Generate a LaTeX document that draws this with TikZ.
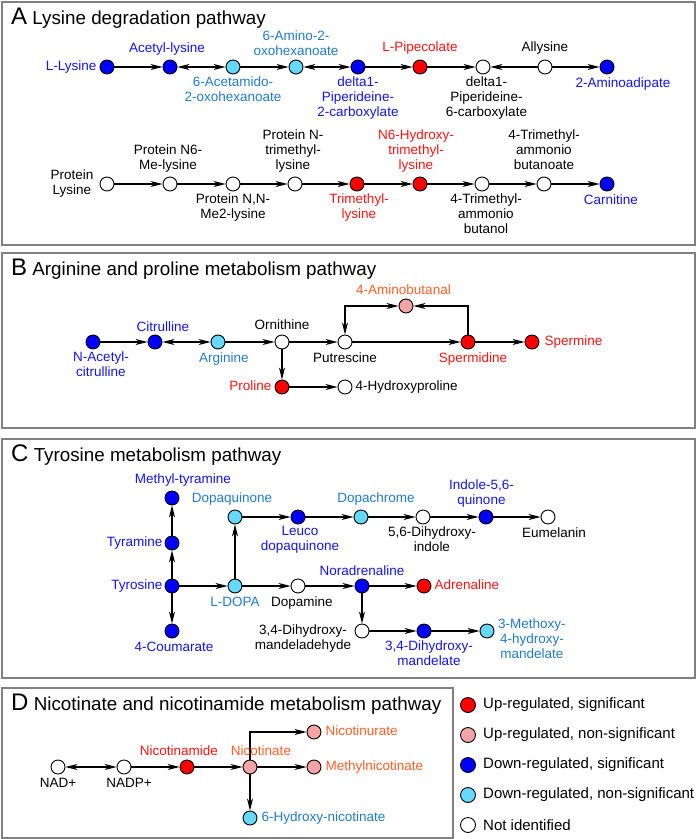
\documentclass[tikz,border=0pt]{standalone}
\usepackage{fontspec}
\setmainfont{Liberation Sans}
\usetikzlibrary{arrows.meta,calc}
\definecolor{cRed}{RGB}{255,0,0}
\definecolor{cPink}{RGB}{244,164,164}
\definecolor{cBlue}{RGB}{0,0,255}
\definecolor{cLBlue}{RGB}{102,216,248}
\definecolor{tBlue}{RGB}{20,20,240}
\definecolor{tLBlue}{RGB}{34,122,200}
\definecolor{tRed}{RGB}{255,20,20}
\definecolor{tOrange}{RGB}{255,95,40}
\definecolor{frameGray}{RGB}{128,128,128}
\begin{document}
\begin{tikzpicture}[x=1pt,y=-1pt,
  >={Stealth[length=12pt,width=6pt,inset=3.5pt]},
  met/.style={circle,draw=black,line width=0.9pt,minimum size=14pt,inner sep=0pt},
  up/.style={met,fill=cRed}, upn/.style={met,fill=cPink},
  dn/.style={met,fill=cBlue}, dnn/.style={met,fill=cLBlue}, ni/.style={met,fill=white},
  lab/.style={font=\fontsize{13.5}{15}\selectfont, align=center, inner sep=2pt,
    execute at begin node=\strut, execute at end node=\strut},
  ar/.style={line width=1.2pt,->},
  ar2/.style={line width=1.2pt,<->},
  frame/.style={draw=frameGray,line width=1.5pt},
  ttl/.style={anchor=base west,inner sep=0pt,font=\fontsize{18.8}{20}\selectfont},
  leg/.style={met,minimum size=15pt},
  legt/.style={anchor=west,inner sep=0pt,font=\fontsize{15}{17}\selectfont}
]
\useasboundingbox (0,0) rectangle (697,839);
% frames
\draw[frame] (2,2) rectangle (695,245);
\draw[frame] (2,253) rectangle (695,428);
\draw[frame] (2,439) rectangle (695,678);
\draw[frame] (2,688) rectangle (453,838);
% titles
\node[ttl] (tA) at (11,24) {{\fontsize{24}{24}\selectfont A} Lysine degradation pathway};
\node[ttl] (tB) at (11,275) {{\fontsize{24}{24}\selectfont B} Arginine and proline metabolism pathway};
\node[ttl] (tC) at (11,461) {{\fontsize{24}{24}\selectfont C} Tyrosine metabolism pathway};
\node[ttl] (tD) at (11,710) {{\fontsize{24}{24}\selectfont D} Nicotinate and nicotinamide metabolism pathway};

% ===== Panel A row 1
\node[dn] (Lys) at (107,67) {};
\node[dn] (AcL) at (170,67) {};
\node[dnn] (AcO) at (233,67) {};
\node[dnn] (AmO) at (296,67) {};
\node[dn] (P2C) at (358,67) {};
\node[up] (Pip) at (420,67) {};
\node[ni] (P6C) at (483,67) {};
\node[ni] (All) at (545,67) {};
\node[dn] (Aad) at (607,67) {};
\draw[ar] (Lys) -- (AcL);
\draw[ar2] (AcL) -- (AcO);
\draw[ar] (AcO) -- (AmO);
\draw[ar2] (AmO) -- (P2C);
\draw[ar] (P2C) -- (Pip);
\draw[ar] (Pip) -- (P6C);
\draw[ar] (All) -- (P6C);
\draw[ar] (All) -- (Aad);
\node[lab,tBlue,anchor=east,xshift=-1pt] (lLys) at (Lys.west) {L-Lysine};
\node[lab,tBlue,anchor=south,xshift=-3pt] (lAcL) at (AcL.north) {Acetyl-lysine};
\node[lab,tLBlue,anchor=north] (lAcO) at (AcO.south) {6-Acetamido-\\2-oxohexanoate};
\node[lab,tLBlue,anchor=south,yshift=-3pt] (lAmO) at (AmO.north) {6-Amino-2-\\oxohexanoate};
\node[lab,tBlue,anchor=north] (lP2C) at (P2C.south) {delta1-\\Piperideine-\\2-carboxylate};
\node[lab,tRed,anchor=south,yshift=1pt] (lPip) at (Pip.north) {L-Pipecolate};
\node[lab,anchor=north,xshift=3.5pt] (lP6C) at (P6C.south) {delta1-\\Piperideine-\\6-carboxylate};
\node[lab,anchor=south,yshift=1pt] (lAll) at (All.north) {Allysine};
\node[lab,tBlue,anchor=north,xshift=16pt] (lAad) at (Aad.south) {2-Aminoadipate};

% ===== Panel A row 2
\node[ni] (PLys) at (107,184) {};
\node[ni] (PMe) at (170,184) {};
\node[ni] (PMe2) at (233,184) {};
\node[ni] (PMe3) at (295,184) {};
\node[up] (TML) at (357,184) {};
\node[up] (HTML) at (420,184) {};
\node[ni] (TMAbl) at (482,184) {};
\node[ni] (TMAbt) at (544,184) {};
\node[dn] (Car) at (607,184) {};
\draw[ar] (PLys) -- (PMe);
\draw[ar] (PMe) -- (PMe2);
\draw[ar] (PMe2) -- (PMe3);
\draw[ar] (PMe3) -- (TML);
\draw[ar] (TML) -- (HTML);
\draw[ar] (HTML) -- (TMAbl);
\draw[ar] (TMAbl) -- (TMAbt);
\draw[ar] (TMAbt) -- (Car);
\node[lab,anchor=east,xshift=-4pt] (lPLys) at (PLys.west) {Protein\\Lysine};
\node[lab,anchor=south,xshift=-2pt] (lPMe) at (PMe.north) {Protein N6-\\Me-lysine};
\node[lab,anchor=north] (lPMe2) at (PMe2.south) {Protein N,N-\\Me2-lysine};
\node[lab,anchor=south,xshift=-2pt] (lPMe3) at (PMe3.north) {Protein N-\\trimethyl-\\lysine};
\node[lab,tRed,anchor=north,xshift=2pt] (lTML) at (TML.south) {Trimethyl-\\lysine};
\node[lab,tRed,anchor=south,xshift=-4pt] (lHTML) at (HTML.north) {N6-Hydroxy-\\trimethyl-\\lysine};
\node[lab,anchor=north,xshift=4pt] (lTMAbl) at (TMAbl.south) {4-Trimethyl-\\ammonio\\butanol};
\node[lab,anchor=south] (lTMAbt) at (TMAbt.north) {4-Trimethyl-\\ammonio\\butanoate};
\node[lab,tBlue,anchor=north,xshift=4pt] (lCar) at (Car.south) {Carnitine};

% ===== Panel B
\node[dn] (NAc) at (93,342) {};
\node[dn] (Cit) at (155,342) {};
\node[dnn] (Arg) at (218,342) {};
\node[ni] (Orn) at (282,342) {};
\node[ni] (Put) at (345,342) {};
\node[up] (Spd) at (468,342) {};
\node[up] (Spm) at (532,342) {};
\node[upn] (Amb) at (406,306) {};
\node[up] (Pro) at (282,387) {};
\node[ni] (Hyp) at (345,387) {};
\draw[ar] (NAc) -- (Cit);
\draw[ar2] (Cit) -- (Arg);
\draw[ar] (Arg) -- (Orn);
\draw[ar] (Orn) -- (Put);
\draw[ar] (Orn) -- (Pro);
\draw[ar] (Pro) -- (Hyp);
\draw[ar] (Put) -- (Spd);
\draw[ar] (Spd) -- (Spm);
\draw[ar] (Spd) |- (Amb);
\draw[ar2] (Put) |- (Amb);
\node[lab,tBlue,anchor=north,xshift=8pt] (lNAc) at (NAc.south) {N-Acetyl-\\citrulline};
\node[lab,tBlue,anchor=south,xshift=8pt,yshift=-4pt] (lCit) at (Cit.north) {Citrulline};
\node[lab,tLBlue,anchor=north,xshift=6pt] (lArg) at (Arg.south) {Arginine};
\node[lab,anchor=south,yshift=-2pt] (lOrn) at (Orn.north) {Ornithine};
\node[lab,anchor=north] (lPut) at (Put.south) {Putrescine};
\node[lab,tRed,anchor=north,xshift=5pt] (lSpd) at (Spd.south) {Spermidine};
\node[lab,tRed,anchor=west,xshift=3pt] (lSpm) at (Spm.east) {Spermine};
\node[lab,tOrange,anchor=south,xshift=-2.5pt,yshift=-3pt] (lAmb) at (Amb.north) {4-Aminobutanal};
\node[lab,tRed,anchor=east,xshift=-1pt] (lPro) at (Pro.west) {Proline};
\node[lab,anchor=west,xshift=1pt] (lHyp) at (Hyp.east) {4-Hydroxyproline};

% ===== Panel C
\node[dn] (Tyr) at (172,586) {};
\node[dn] (Tym) at (172,543) {};
\node[dn] (MTym) at (172,498) {};
\node[dn] (Cou) at (172,631) {};
\node[dnn] (Dopa) at (235,586) {};
\node[dnn] (DQ) at (235,517) {};
\node[dn] (Leu) at (298,517) {};
\node[dnn] (DC) at (361,517) {};
\node[ni] (DHI) at (423,517) {};
\node[dn] (IQ) at (486,517) {};
\node[ni] (Eum) at (548,517) {};
\node[ni] (DA) at (298,586) {};
\node[dn] (NA) at (362,586) {};
\node[up] (Adr) at (424,586) {};
\node[ni] (DHMAl) at (362,631) {};
\node[dn] (DHM) at (424,631) {};
\node[dnn] (MHM) at (487,631) {};
\draw[ar] (Tyr) -- (Tym);
\draw[ar] (Tym) -- (MTym);
\draw[ar] (Tyr) -- (Cou);
\draw[ar] (Tyr) -- (Dopa);
\draw[ar] (Dopa) -- (DQ);
\draw[ar] (DQ) -- (Leu);
\draw[ar] (Leu) -- (DC);
\draw[ar] (DC) -- (DHI);
\draw[ar] (DHI) -- (IQ);
\draw[ar] (IQ) -- (Eum);
\draw[ar] (Dopa) -- (DA);
\draw[ar] (DA) -- (NA);
\draw[ar] (NA) -- (Adr);
\draw[ar] (NA) -- (DHMAl);
\draw[ar] (DHMAl) -- (DHM);
\draw[ar] (DHM) -- (MHM);
\node[lab,tBlue,anchor=south,xshift=11pt] (lMTym) at (MTym.north) {Methyl-tyramine};
\node[lab,tBlue,anchor=east] (lTym) at (Tym.west) {Tyramine};
\node[lab,tBlue,anchor=east] (lTyr) at (Tyr.west) {Tyrosine};
\node[lab,tBlue,anchor=north,xshift=2pt] (lCou) at (Cou.south) {4-Coumarate};
\node[lab,tLBlue,anchor=north] (lDopa) at (Dopa.south) {L-DOPA};
\node[lab,tLBlue,anchor=south,xshift=-3pt] (lDQ) at (DQ.north) {Dopaquinone};
\node[lab,tBlue,anchor=north,xshift=2pt] (lLeu) at (Leu.south) {Leuco\\dopaquinone};
\node[lab,tLBlue,anchor=south,xshift=15pt] (lDC) at (DC.north) {Dopachrome};
\node[lab,anchor=north,xshift=9pt] (lDHI) at (DHI.south) {5,6-Dihydroxy-\\indole};
\node[lab,tBlue,anchor=south,xshift=-4.5pt,yshift=-2pt] (lIQ) at (IQ.north) {Indole-5,6-\\quinone};
\node[lab,anchor=north,xshift=6pt] (lEum) at (Eum.south) {Eumelanin};
\node[lab,anchor=north,xshift=4pt] (lDA) at (DA.south) {Dopamine};
\node[lab,tBlue,anchor=south,yshift=-4pt] (lNA) at (NA.north) {Noradrenaline};
\node[lab,tRed,anchor=west,xshift=1pt] (lAdr) at (Adr.east) {Adrenaline};
\node[lab] (lDHMAl) at (303,639.5) {3,4-Dihydroxy-\\mandeladehyde};
\node[lab,tBlue,anchor=north,xshift=5pt] (lDHM) at (DHM.south) {3,4-Dihydroxy-\\mandelate};
\node[lab,tLBlue,anchor=west] (lMHM) at (496,640.7) {3-Methoxy-\\4-hydroxy-\\mandelate};

% ===== Panel D
\node[ni] (NAD) at (58,767) {};
\node[ni] (NADP) at (124,767) {};
\node[up] (Nam) at (187,767) {};
\node[upn] (Nic) at (250,767) {};
\node[upn] (Nur) at (314,732) {};
\node[upn] (MNic) at (314,767) {};
\node[dnn] (HNic) at (250,818) {};
\draw[ar2] (NAD) -- (NADP);
\draw[ar] (NADP) -- (Nam);
\draw[ar] (Nam) -- (Nic);
\draw[ar] (Nic) |- (Nur);
\draw[ar] (Nic) -- (MNic);
\draw[ar] (Nic) -- (HNic);
\node[lab,anchor=north] (lNAD) at (NAD.south) {NAD+};
\node[lab,anchor=north,xshift=5pt] (lNADP) at (NADP.south) {NADP+};
\node[lab,tRed,anchor=south,xshift=-8pt,yshift=-3pt] (lNam) at (Nam.north) {Nicotinamide};
\node[lab,tOrange,anchor=south,xshift=11pt,yshift=-3pt] (lNic) at (Nic.north) {Nicotinate};
\node[lab,tOrange,anchor=west,xshift=2pt] (lNur) at (Nur.east) {Nicotinurate};
\node[lab,tOrange,anchor=west,xshift=2pt] (lMNic) at (MNic.east) {Methylnicotinate};
\node[lab,tLBlue,anchor=west,xshift=2pt] (lHNic) at (HNic.east) {6-Hydroxy-nicotinate};

% ===== Legend
\node[leg,fill=cRed] (g1) at (468,705) {};
\node[leg,fill=cPink] (g2) at (468,735) {};
\node[leg,fill=cBlue] (g3) at (468,765) {};
\node[leg,fill=cLBlue] (g4) at (468,795) {};
\node[leg,fill=white] (g5) at (468,825) {};
\node[legt] (lg1) at (483,705) {Up-regulated, significant};
\node[legt] (lg2) at (483,735) {Up-regulated, non-significant};
\node[legt] (lg3) at (483,765) {Down-regulated, significant};
\node[legt] (lg4) at (483,795) {Down-regulated, non-significant};
\node[legt] (lg5) at (483,825) {Not identified};
\end{tikzpicture}
\end{document}
